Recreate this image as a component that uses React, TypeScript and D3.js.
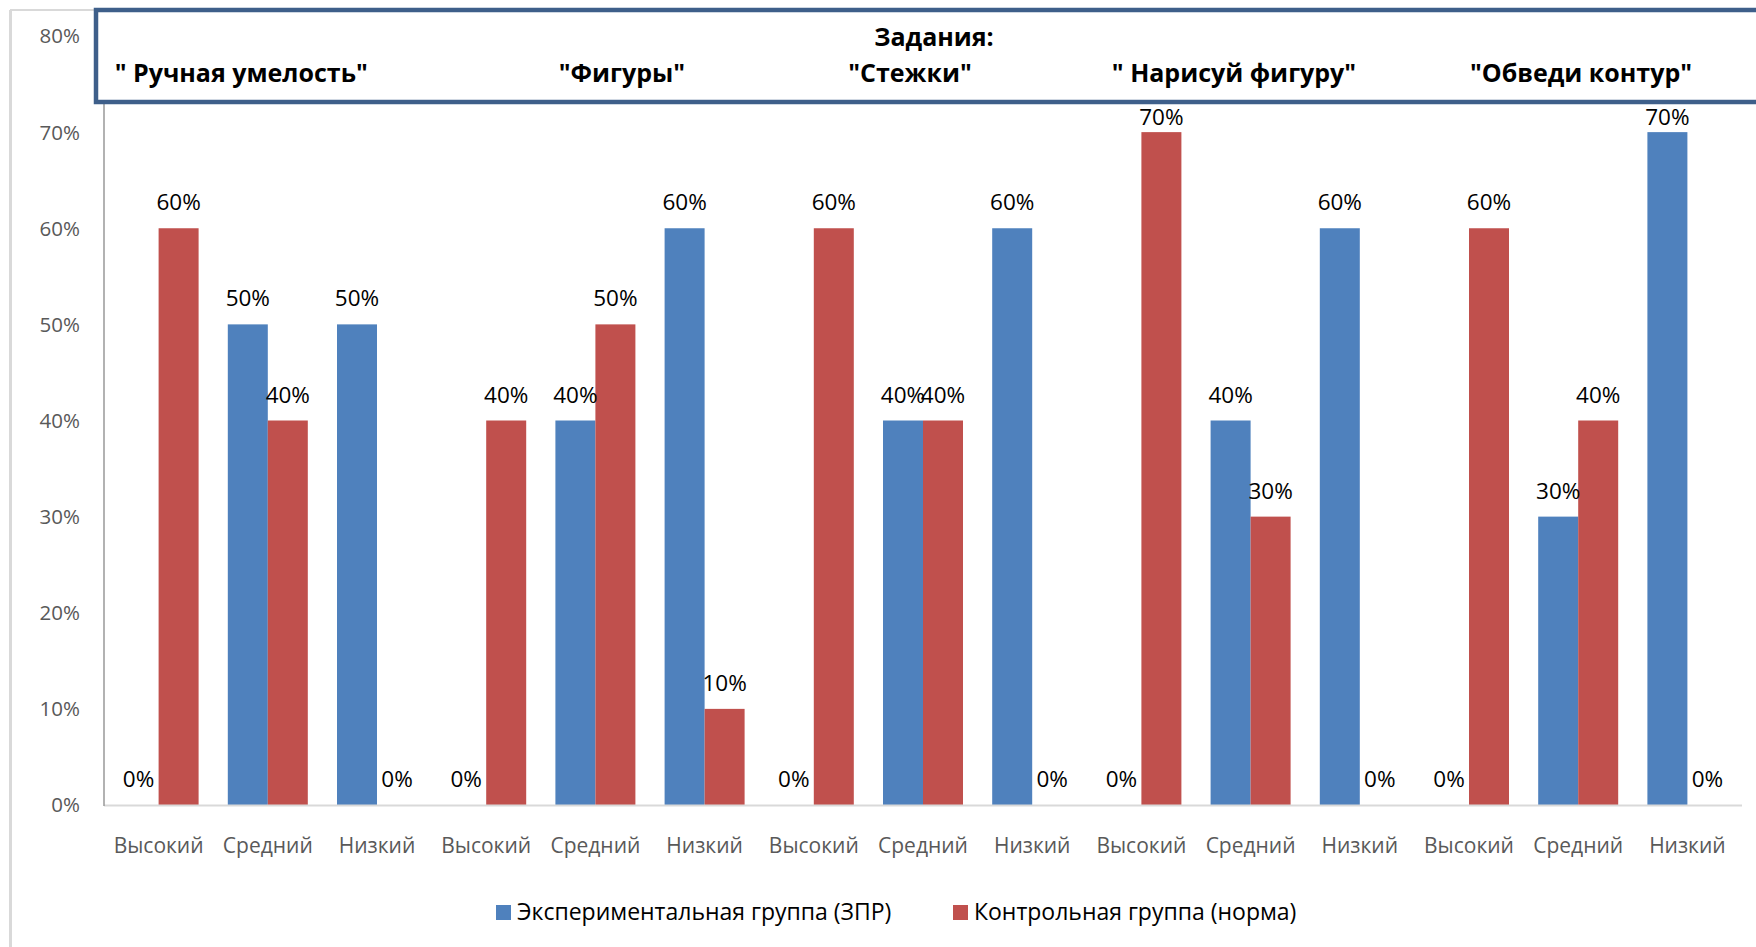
import React, { useEffect, useRef } from "react";
import * as d3 from "d3";

// уровни по каждому заданию
const categories = [
  "Высокий", "Средний", "Низкий",
  "Высокий", "Средний", "Низкий",
  "Высокий", "Средний", "Низкий",
  "Высокий", "Средний", "Низкий",
  "Высокий", "Средний", "Низкий",
];

const expValues = [0, 0.5, 0.5, 0, 0.4, 0.6, 0, 0.4, 0.6, 0, 0.4, 0.6, 0, 0.3, 0.7];
const ctrlValues = [0.6, 0.4, 0, 0.4, 0.5, 0.1, 0.6, 0.4, 0, 0.7, 0.3, 0, 0.6, 0.4, 0];

const seriesNames = ["Экспериментальная группа (ЗПР)", "Контрольная группа (норма)"];
const seriesColors = ["#4f81bd", "#c0504d"];

const yTicks = [0, 0.1, 0.2, 0.3, 0.4, 0.5, 0.6, 0.7, 0.8];

const taskTitle = "Задания:";
const taskNames = [
  { text: "\u00a0\" Ручная умелость\"", x: 238 },
  { text: "\"Фигуры\"", x: 622 },
  { text: "\"Стежки\"", x: 910 },
  { text: "\" Нарисуй фигуру\"", x: 1234 },
  { text: "\"Обведи контур\"", x: 1581 },
];

const FONT = "'Open Sans', 'Noto Sans', sans-serif";

function drawChart(svgEl: SVGSVGElement, width: number, height: number) {
  const svg = d3.select(svgEl);
  svg.selectAll("*").remove();
  svg.attr("width", width).attr("height", height);

  const left = 104, right = 1742, top = 36, bottom = 805;

  const x0 = d3.scaleBand<number>()
    .domain(d3.range(categories.length))
    .range([left, right]);

  const x1 = d3.scaleBand<number>()
    .domain([0, 1])
    .range([0, x0.bandwidth()])
    .paddingOuter(0.365);

  const y = d3.scaleLinear().domain([0, 0.8]).range([bottom, top]);

  // рамка диаграммы
  svg.append("line")
    .attr("x1", 10.5).attr("x2", 10.5).attr("y1", 10).attr("y2", height)
    .attr("stroke", "#d9d9d9").attr("stroke-width", 3);
  svg.append("line")
    .attr("x1", 10).attr("x2", width).attr("y1", 10).attr("y2", 10)
    .attr("stroke", "#d9d9d9").attr("stroke-width", 2);

  // подписи оси Y
  svg.append("g")
    .selectAll("text")
    .data(yTicks)
    .enter()
    .append("text")
    .attr("x", 80)
    .attr("y", d => y(d))
    .attr("dy", "0.36em")
    .attr("text-anchor", "end")
    .attr("font-family", FONT)
    .attr("font-size", 20.5)
    .attr("fill", "#595959")
    .text(d => d3.format(".0%")(d));

  // столбцы
  const series = [expValues, ctrlValues];
  const bars: { i: number; s: number; v: number }[] = [];
  series.forEach((vals, s) => vals.forEach((v, i) => bars.push({ i, s, v })));

  svg.append("g")
    .selectAll("rect")
    .data(bars)
    .enter()
    .append("rect")
    .attr("x", d => (x0(d.i) as number) + (x1(d.s) as number))
    .attr("y", d => y(d.v))
    .attr("width", x1.bandwidth())
    .attr("height", d => bottom - y(d.v))
    .attr("fill", d => seriesColors[d.s]);

  // оси
  svg.append("line")
    .attr("x1", left).attr("x2", right).attr("y1", bottom + 0.5).attr("y2", bottom + 0.5)
    .attr("stroke", "#d9d9d9").attr("stroke-width", 2);
  svg.append("line")
    .attr("x1", left).attr("x2", left).attr("y1", top).attr("y2", bottom + 1)
    .attr("stroke", "#999999").attr("stroke-width", 1.5);

  // подписи значений
  svg.append("g")
    .selectAll("text")
    .data(bars)
    .enter()
    .append("text")
    .attr("x", d => (x0(d.i) as number) + (x1(d.s) as number) + x1.bandwidth() / 2)
    .attr("y", d => Math.max(y(d.v) - 18, 125))
    .attr("text-anchor", "middle")
    .attr("font-family", FONT)
    .attr("font-size", 22.5)
    .attr("fill", "#000")
    .text(d => d3.format(".0%")(d.v));

  // категории
  svg.append("g")
    .selectAll("text")
    .data(categories)
    .enter()
    .append("text")
    .attr("x", (d, i) => (x0(i) as number) + x0.bandwidth() / 2)
    .attr("y", 853)
    .attr("text-anchor", "middle")
    .attr("font-family", FONT)
    .attr("font-size", 21)
    .attr("fill", "#595959")
    .text(d => d);

  // легенда
  const legendX = [496, 953];
  const lg = svg.append("g");
  seriesNames.forEach((name, s) => {
    lg.append("rect")
      .attr("x", legendX[s]).attr("y", 905)
      .attr("width", 15).attr("height", 15)
      .attr("fill", seriesColors[s]);
    lg.append("text")
      .attr("x", legendX[s] + 21).attr("y", 920)
      .attr("font-family", FONT)
      .attr("font-size", 23)
      .attr("fill", "#000")
      .text(name);
  });

  // надпись с заданиями
  svg.append("rect")
    .attr("x", 96).attr("y", 10)
    .attr("width", width)
    .attr("height", 92)
    .attr("fill", "#fff")
    .attr("stroke", "#3e5f8a")
    .attr("stroke-width", 4.5);

  svg.append("text")
    .attr("x", 934).attr("y", 46)
    .attr("text-anchor", "middle")
    .attr("font-family", FONT)
    .attr("font-weight", "bold")
    .attr("font-size", 25)
    .attr("fill", "#000")
    .text(taskTitle);

  svg.append("g")
    .selectAll("text")
    .data(taskNames)
    .enter()
    .append("text")
    .attr("x", d => d.x)
    .attr("y", 82)
    .attr("text-anchor", "middle")
    .attr("font-family", FONT)
    .attr("font-weight", "bold")
    .attr("font-size", 25)
    .attr("fill", "#000")
    .text(d => d.text);
}

export default function App() {
  const svgRef = useRef<SVGSVGElement>(null);
  const width = 1756;
  const height = 947;

  useEffect(() => {
    if (svgRef.current) drawChart(svgRef.current, width, height);
  }, []);

  return (
    <svg
      ref={svgRef}
      style={{ position: "absolute", left: 0, top: 0, background: "#fff" }}
    />
  );
}
